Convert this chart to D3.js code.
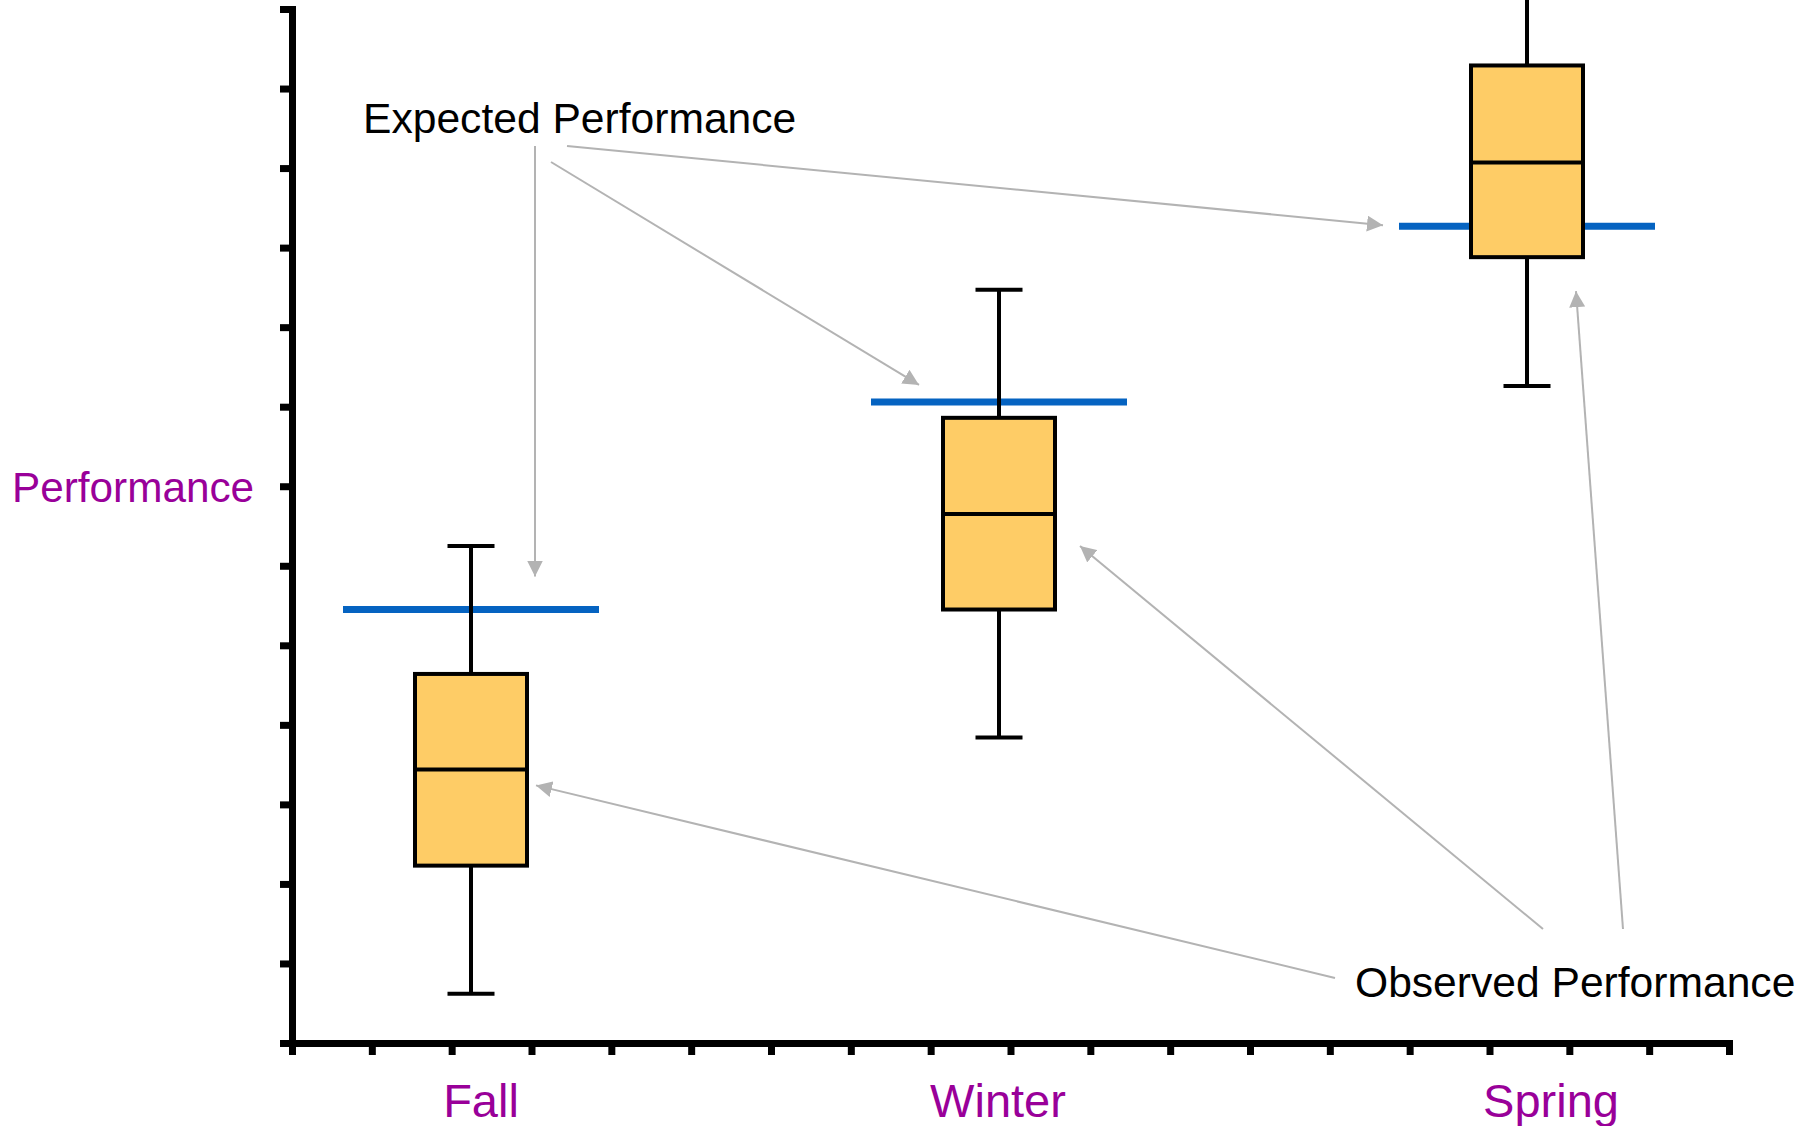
<!DOCTYPE html>
<html>
<head>
<meta charset="utf-8">
<script src="https://cdn.jsdelivr.net/npm/d3@7"></script>
<style>
  html, body { margin: 0; padding: 0; background: #fff; }
  svg { display: block; font-family: "Liberation Sans", Arial, sans-serif; }
</style>
</head>
<body>
<svg id="chart" width="1802" height="1126"></svg>
<script>
// ---- data ----
const categories = ["Fall", "Winter", "Spring"];
const whiskerLow = [0.62, 3.84, 8.26];
const q1 = [2.23, 5.45, 9.88];
const median = [3.44, 6.65, 11.07];
const q3 = [4.64, 7.86, 12.29];
const whiskerHigh = [6.25, 9.47, 13.9];
const expected = [5.45, 8.06, 10.27];
const yTickValues = d3.range(0, 14);   // 0..13
const xTickValues = d3.range(0, 19);   // 0..18
const yLabel = "Performance";
const expectedLabel = "Expected Performance";
const observedLabel = "Observed Performance";

// ---- layout ----
const svg = d3.select("#chart");
const y = d3.scaleLinear().domain([0, 13]).range([1043, 9]);
const xAxisScale = d3.scaleLinear().domain([0, 18]).range([292, 1729]);
const x = d3.scalePoint().domain(categories).range([471, 1527]);
const labelDx = [10, -1, 24];
const boxW = 112, capW = 47, expW = 256;
const purple = "#990099";

// defs: arrowhead
svg.append("defs").append("marker")
  .attr("id", "arrow").attr("markerUnits", "userSpaceOnUse")
  .attr("viewBox", "0 0 16 16").attr("refX", 16).attr("refY", 8)
  .attr("markerWidth", 16).attr("markerHeight", 16).attr("orient", "auto")
  .append("path").attr("d", "M0,0 L16,8 L0,16 Z").attr("fill", "#b3b3b3");

// axes
const gy = svg.append("g").attr("transform", `translate(${xAxisScale(0)},0)`)
  .call(d3.axisLeft(y).tickValues(yTickValues).tickFormat("").tickSize(12).tickSizeOuter(0));
const gx = svg.append("g").attr("transform", `translate(0,${y(0)})`)
  .call(d3.axisBottom(xAxisScale).tickValues(xTickValues).tickFormat("").tickSize(12).tickSizeOuter(0));
[gy, gx].forEach(g => {
  g.select(".domain").attr("stroke", "#000").attr("stroke-width", 7).attr("stroke-linecap", "square");
  g.selectAll(".tick line").attr("stroke", "#000").attr("stroke-width", 7);
});

// category labels
svg.append("g").selectAll("text").data(categories).join("text")
  .attr("x", (d, i) => x(d) + labelDx[i]).attr("y", 1117)
  .attr("text-anchor", "middle").attr("font-size", 47).attr("fill", purple)
  .text(d => d);

// y label
svg.append("text").attr("x", 12).attr("y", 502)
  .attr("font-size", 42.3).attr("fill", purple).text(yLabel);

// expected lines
svg.append("g").selectAll("line").data(categories).join("line")
  .attr("x1", d => x(d) - expW / 2).attr("x2", d => x(d) + expW / 2)
  .attr("y1", (d, i) => y(expected[i])).attr("y2", (d, i) => y(expected[i]))
  .attr("stroke", "#0563C1").attr("stroke-width", 7);

// box plots
const boxes = svg.append("g").selectAll("g").data(categories).join("g");
boxes.append("line") // whisker
  .attr("x1", d => x(d)).attr("x2", d => x(d))
  .attr("y1", (d, i) => y(whiskerLow[i])).attr("y2", (d, i) => y(whiskerHigh[i]))
  .attr("stroke", "#000").attr("stroke-width", 4);
boxes.append("line") // low cap
  .attr("x1", d => x(d) - capW / 2).attr("x2", d => x(d) + capW / 2)
  .attr("y1", (d, i) => y(whiskerLow[i])).attr("y2", (d, i) => y(whiskerLow[i]))
  .attr("stroke", "#000").attr("stroke-width", 4);
boxes.append("line") // high cap
  .attr("x1", d => x(d) - capW / 2).attr("x2", d => x(d) + capW / 2)
  .attr("y1", (d, i) => y(whiskerHigh[i])).attr("y2", (d, i) => y(whiskerHigh[i]))
  .attr("stroke", "#000").attr("stroke-width", 4);
boxes.append("rect")
  .attr("x", d => x(d) - boxW / 2).attr("width", boxW)
  .attr("y", (d, i) => y(q3[i])).attr("height", (d, i) => y(q1[i]) - y(q3[i]))
  .attr("fill", "#FECC66").attr("stroke", "#000").attr("stroke-width", 4);
boxes.append("line") // median
  .attr("x1", d => x(d) - boxW / 2).attr("x2", d => x(d) + boxW / 2)
  .attr("y1", (d, i) => y(median[i])).attr("y2", (d, i) => y(median[i]))
  .attr("stroke", "#000").attr("stroke-width", 4);

// annotations
svg.append("text").attr("x", 363).attr("y", 133).attr("font-size", 42.6).attr("fill", "#000").text(expectedLabel);
svg.append("text").attr("x", 1355).attr("y", 997).attr("font-size", 42.6).attr("fill", "#000").text(observedLabel);

const arrows = [
  // expected performance arrows
  { from: [535, 146],   to: [x("Fall") + 64,     y(expected[0]) - 33] },
  { from: [551, 162],   to: [x("Winter") - 80,   y(expected[1]) - 17] },
  { from: [567, 146],   to: [x("Spring") - 144,  y(expected[2]) - 1] },
  // observed performance arrows
  { from: [1335, 978],  to: [x("Fall") + 65,     y(median[0]) + 16] },
  { from: [1543, 929],  to: [x("Winter") + 81,   y(median[1]) + 32] },
  { from: [1623, 929],  to: [x("Spring") + 49,   y(q1[2]) + 34] }
];
svg.append("g").selectAll("line").data(arrows).join("line")
  .attr("x1", d => d.from[0]).attr("y1", d => d.from[1])
  .attr("x2", d => d.to[0]).attr("y2", d => d.to[1])
  .attr("stroke", "#b3b3b3").attr("stroke-width", 2)
  .attr("marker-end", "url(#arrow)");
</script>
</body>
</html>
